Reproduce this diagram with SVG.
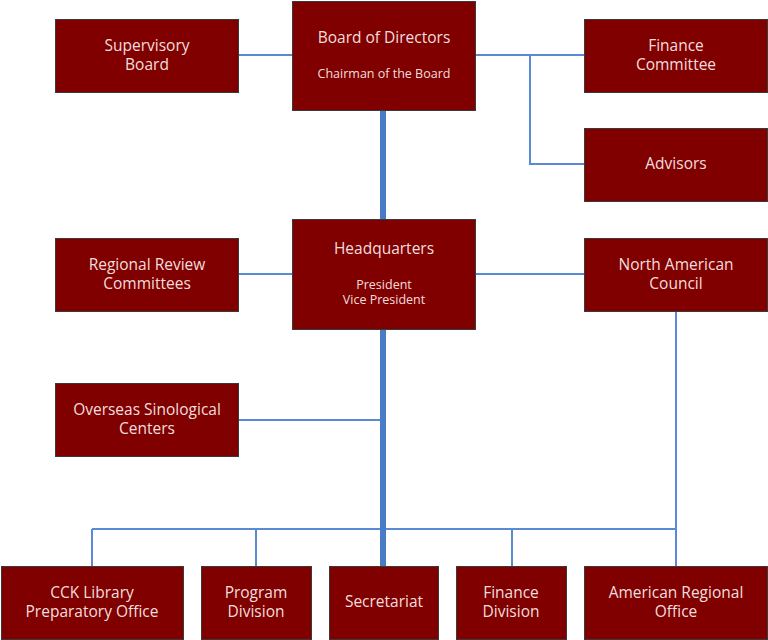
<svg xmlns="http://www.w3.org/2000/svg" width="768" height="640" viewBox="0 0 768 640">
<style>
.box{fill:#800000;stroke:#3a3a3a;stroke-width:1}
.t{font-family:"Open Sans","Noto Sans",sans-serif;font-size:15.5px;fill:#f2dede;text-anchor:middle}
.s{font-family:"Open Sans","Noto Sans",sans-serif;font-size:12.5px;fill:#f2dede;text-anchor:middle}
.thin{stroke:#5a8ad6;stroke-width:2;fill:none}
.thick{stroke:#4a7cc6;stroke-width:6;fill:none}
</style>
<rect width="768" height="640" fill="#ffffff"/>
<g id="connectors">
<path class="thin" d="M238 55H292M475 55H584M530 55V164H584M238 274H292M475 274H584M238 420H383M92 529H676M92 529V566M256 529V566M512 529V566M676 311V566"/>
<path class="thick" d="M383 110V219M383 329V566"/>
</g>
<g id="supervisory-board"><rect class="box" x="55.5" y="19.5" width="183" height="73"/><text class="t" x="147" y="51">Supervisory</text><text class="t" x="147" y="70">Board</text></g>
<g id="board-of-directors"><rect class="box" x="292.5" y="1.5" width="183" height="109"/><text class="t" x="384" y="43">Board of Directors</text><text class="s" x="384" y="78">Chairman of the Board</text></g>
<g id="finance-committee"><rect class="box" x="584.5" y="19.5" width="183" height="73"/><text class="t" x="676" y="51">Finance</text><text class="t" x="676" y="70">Committee</text></g>
<g id="advisors"><rect class="box" x="584.5" y="128.5" width="183" height="73"/><text class="t" x="676" y="169">Advisors</text></g>
<g id="regional-review-committees"><rect class="box" x="55.5" y="238.5" width="183" height="73"/><text class="t" x="147" y="270">Regional Review</text><text class="t" x="147" y="289">Committees</text></g>
<g id="headquarters"><rect class="box" x="292.5" y="219.5" width="183" height="110"/><text class="t" x="384" y="254">Headquarters</text><text class="s" x="384" y="289">President</text><text class="s" x="384" y="304">Vice President</text></g>
<g id="north-american-council"><rect class="box" x="584.5" y="238.5" width="183" height="73"/><text class="t" x="676" y="270">North American</text><text class="t" x="676" y="289">Council</text></g>
<g id="overseas-sinological-centers"><rect class="box" x="55.5" y="383.5" width="183" height="73"/><text class="t" x="147" y="415">Overseas Sinological</text><text class="t" x="147" y="434">Centers</text></g>
<g id="cck-library"><rect class="box" x="1.5" y="566.5" width="182" height="73"/><text class="t" x="92" y="598">CCK Library</text><text class="t" x="92" y="617">Preparatory Office</text></g>
<g id="program-division"><rect class="box" x="201.5" y="566.5" width="110" height="73"/><text class="t" x="256" y="598">Program</text><text class="t" x="256" y="617">Division</text></g>
<g id="secretariat"><rect class="box" x="329.5" y="566.5" width="109" height="73"/><text class="t" x="384" y="607">Secretariat</text></g>
<g id="finance-division"><rect class="box" x="456.5" y="566.5" width="110" height="73"/><text class="t" x="511" y="598">Finance</text><text class="t" x="511" y="617">Division</text></g>
<g id="american-regional-office"><rect class="box" x="584.5" y="566.5" width="183" height="73"/><text class="t" x="676" y="598">American Regional</text><text class="t" x="676" y="617">Office</text></g>
</svg>
